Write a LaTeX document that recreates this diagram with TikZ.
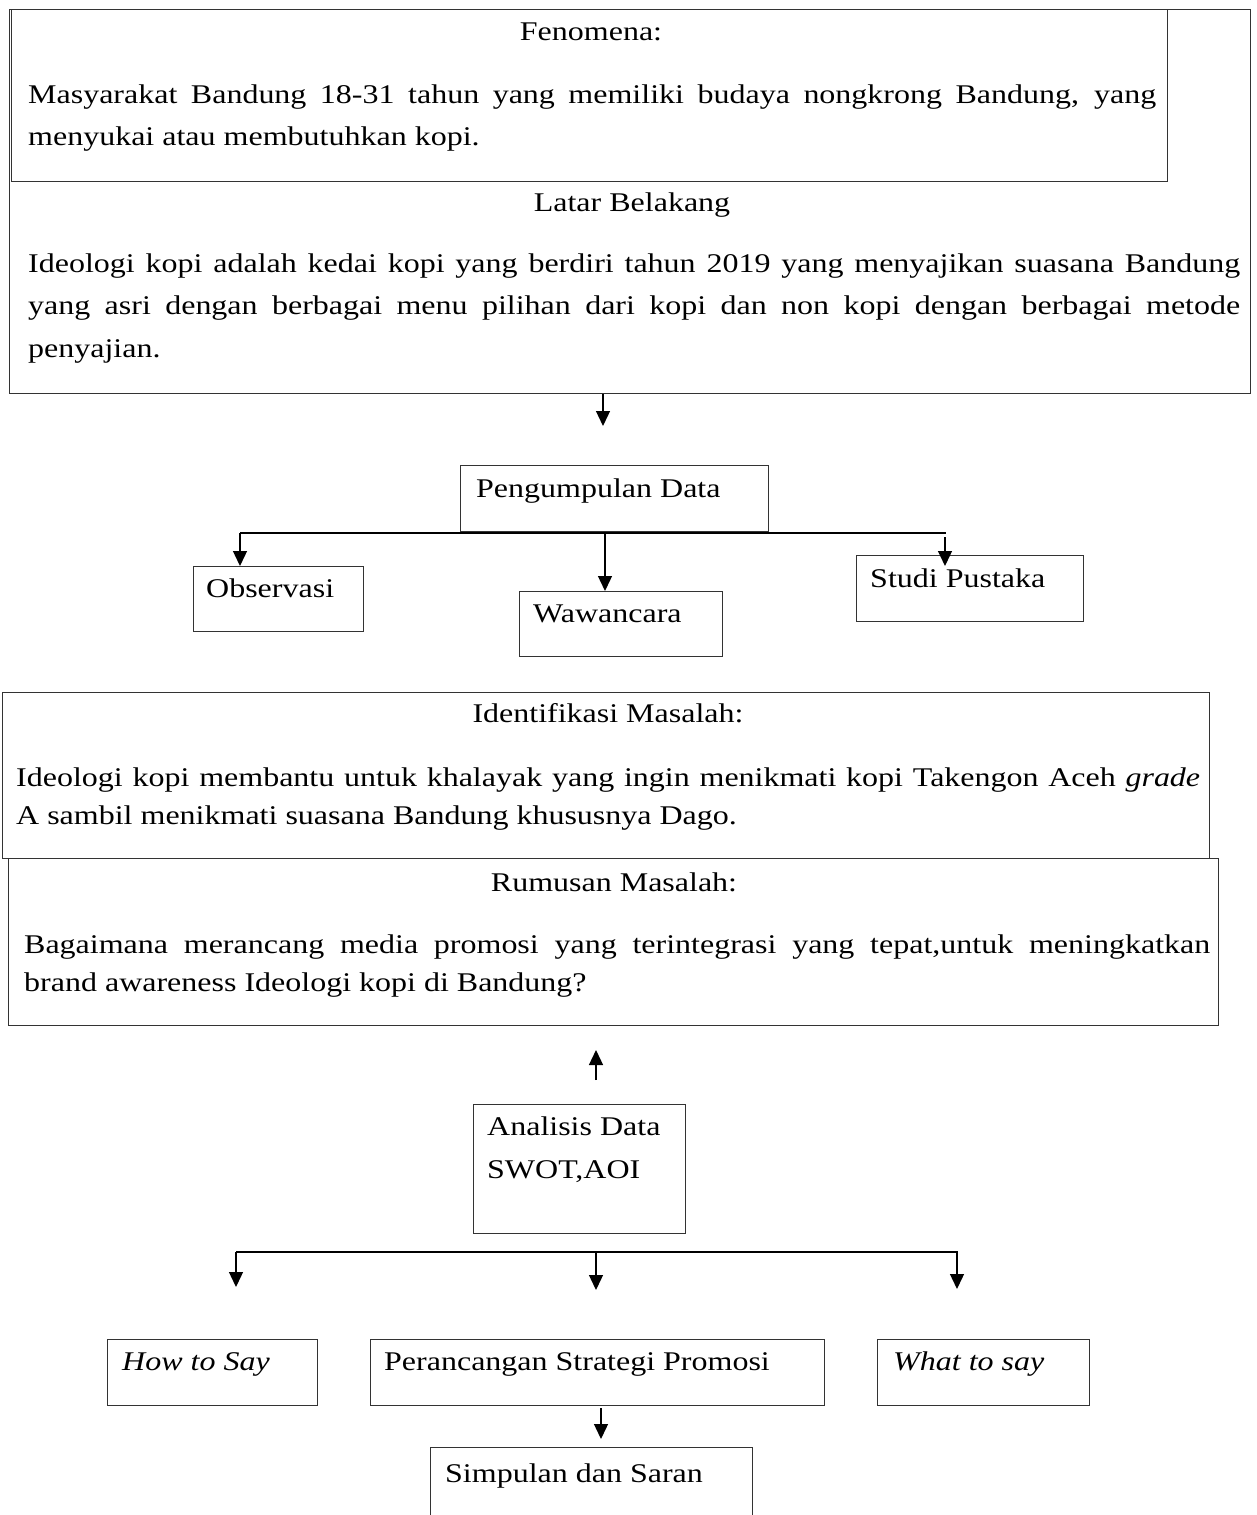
\documentclass[tikz,border=0pt]{standalone}
\usepackage{fontspec}
\setmainfont{Liberation Serif}[FakeStretch=1.185]
\usetikzlibrary{arrows.meta}
\hyphenpenalty=10000
\exhyphenpenalty=10000
\begin{document}
\begin{tikzpicture}[x=1pt,y=-1pt,
  box/.style={draw=black!80, line width=1.3pt, inner sep=0pt, anchor=north west},
  lbl/.style={inner sep=0pt, anchor=base west, font=\fontsize{27pt}{42pt}\selectfont},
  ttl/.style={inner sep=0pt, anchor=base, font=\fontsize{27pt}{42pt}\selectfont},
  paraA/.style={inner sep=0pt, anchor=base west, align=justify, font=\fontsize{27pt}{42.7pt}\selectfont},
  paraB/.style={inner sep=0pt, anchor=base west, align=justify, font=\fontsize{27pt}{38pt}\selectfont},
  arr/.style={line width=1.3pt, -{Triangle[width=14pt,length=15pt]}},
  bar/.style={line width=2.2pt}]
\useasboundingbox (0,0) rectangle (1256,1515);

% boxes
\node[box, minimum width=1241pt, minimum height=384pt] (latar) at (9,9) {};
\node[box, minimum width=1156pt, minimum height=172pt] (fen) at (11,9) {};
\node[box, minimum width=1207pt, minimum height=166pt] (ident) at (2,692) {};
\node[box, minimum width=1210pt, minimum height=167pt] (rumus) at (8,858) {};
\node[box, minimum width=308pt, minimum height=66pt] (peng) at (460,465) {};
\node[box, minimum width=170pt, minimum height=65pt] (obs) at (193,566) {};
\node[box, minimum width=203pt, minimum height=65pt] (waw) at (519,591) {};
\node[box, minimum width=227pt, minimum height=66pt] (studi) at (856,555) {};
\node[box, minimum width=212pt, minimum height=129pt] (anal) at (473,1104) {};
\node[box, minimum width=210pt, minimum height=66pt] (how) at (107,1339) {};
\node[box, minimum width=454pt, minimum height=66pt] (peran) at (370,1339) {};
\node[box, minimum width=212pt, minimum height=66pt] (what) at (877,1339) {};
\node[box, minimum width=322pt, minimum height=90pt] (simp) at (430,1447) {};

% texts
\node[ttl] (fenT) at (591,40) {Fenomena:};
\node[paraA, text width=1128pt] (fenP) at (28,103) {Masyarakat Bandung 18-31 tahun yang memiliki budaya nongkrong Bandung, yang\linebreak menyukai atau membutuhkan kopi.};
\node[ttl] (latT) at (632,211) {Latar Belakang};
\node[paraA, text width=1212pt] (latP) at (28,272) {Ideologi kopi adalah kedai kopi yang berdiri tahun 2019 yang menyajikan suasana Bandung\linebreak yang asri dengan berbagai menu pilihan dari kopi dan non kopi dengan berbagai metode\linebreak penyajian.};
\node[ttl] (idT) at (608,722) {Identifikasi Masalah:};
\node[paraB, text width=1184pt] (idP) at (16,786) {Ideologi kopi membantu untuk khalayak yang ingin menikmati kopi Takengon Aceh \textit{grade}\linebreak A sambil menikmati suasana Bandung khususnya Dago.};
\node[ttl] (ruT) at (614,891) {Rumusan Masalah:};
\node[paraB, text width=1186pt] (ruP) at (24,953) {Bagaimana merancang media promosi yang terintegrasi yang tepat,untuk meningkatkan\linebreak brand awareness Ideologi kopi di Bandung?};

\node[lbl] (pengT) at (476,497) {Pengumpulan Data};
\node[lbl] (obsT) at (206,597) {Observasi};
\node[lbl] (wawT) at (533,622) {Wawancara};
\node[lbl] (studiT) at (870,587) {Studi Pustaka};
\node[lbl] (analT1) at (487,1135) {Analisis Data};
\node[lbl] (analT2) at (487,1178) {SWOT,AOI};
\node[lbl] (howT) at (122,1370) {\textit{How to Say}};
\node[lbl] (peranT) at (384,1370) {Perancangan Strategi Promosi};
\node[lbl] (whatT) at (893,1370) {\textit{What to say}};
\node[lbl] (simpT) at (445,1482) {Simpulan dan Saran};

% connectors
\coordinate (t1) at (603,426);
\draw[arr] (latar.south -| t1) -- (t1);

\coordinate (bl) at (240,533);
\coordinate (bm) at (605,533);
\coordinate (br) at (946,533);
\coordinate (br0) at (945,537);
\coordinate (t2) at (945,566);
\draw[bar] (bl) -- (br);
\draw[arr] (bl) -- (bl |- obs.north);
\draw[arr] (bm) -- (bm |- waw.north);
\draw[arr] (br0) -- (t2);

\coordinate (u0) at (596,1080);
\coordinate (u1) at (596,1050);
\draw[arr] (u0) -- (u1);

\coordinate (ll) at (236,1252);
\coordinate (lm) at (596,1252);
\coordinate (lr) at (958,1252);
\coordinate (d1) at (236,1287);
\coordinate (d2) at (596,1290);
\coordinate (d3) at (957,1289);
\draw[bar] (ll) -- (lr);
\draw[arr] (ll) -- (d1);
\draw[arr] (lm) -- (d2);
\draw[arr] (957,1252) -- (d3);

\coordinate (p0) at (601,1408);
\coordinate (p1) at (601,1439);
\draw[arr] (p0) -- (p1);
\end{tikzpicture}
\end{document}
